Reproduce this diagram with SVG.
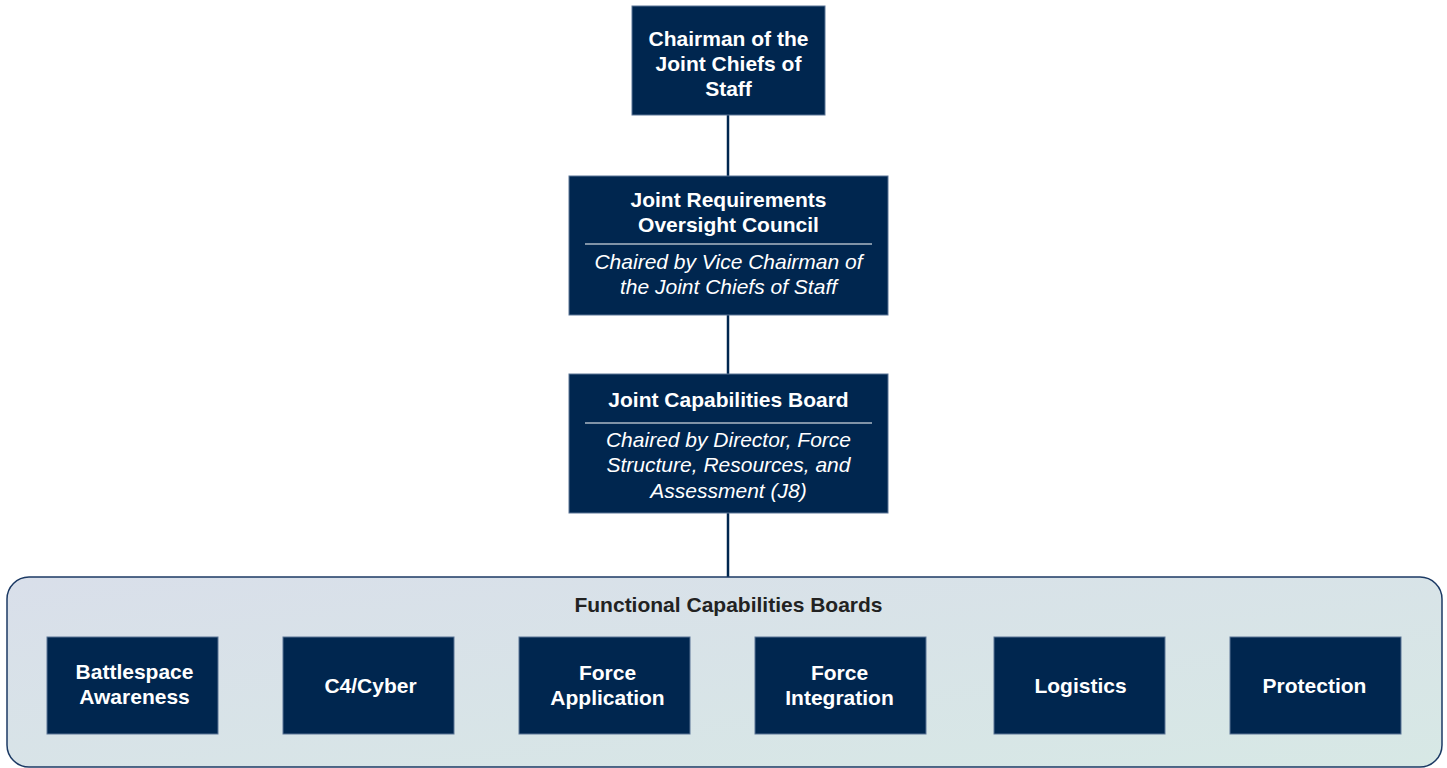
<svg xmlns="http://www.w3.org/2000/svg" width="1447" height="768" viewBox="0 0 1447 768">
<style>
.box{fill:#00264f;stroke:#5a7596;stroke-width:1}
.t{font-family:"Liberation Sans",Arial,sans-serif;font-weight:bold;font-size:21px;fill:#fff;text-anchor:middle}
.i{font-family:"Liberation Sans",Arial,sans-serif;font-style:italic;font-size:21px;fill:#fff;text-anchor:middle}
.div{stroke:#fff;stroke-width:1.2}
.conn{stroke:#00264f;stroke-width:2.5;fill:none}
</style>
<defs>
<linearGradient id="bg" x1="0" y1="0" x2="1" y2="1" gradientUnits="objectBoundingBox">
<stop offset="0" stop-color="#d9dfea"/>
<stop offset="1" stop-color="#d7e8e5"/>
</linearGradient>
</defs>
<rect width="1447" height="768" fill="#fff"/>
<g id="connectors">
<line class="conn" x1="728" y1="115" x2="728" y2="176"/>
<line class="conn" x1="728" y1="315" x2="728" y2="374"/>
<line class="conn" x1="728" y1="513" x2="728" y2="577"/>
</g>
<g id="fcb">
<rect x="7" y="577" width="1435" height="190" rx="22" fill="url(#bg)" stroke="#1c3a64" stroke-width="1.5"/>
<text x="728.5" y="612" font-family="'Liberation Sans',Arial,sans-serif" font-weight="bold" font-size="21" fill="#222" text-anchor="middle">Functional Capabilities Boards</text>
</g>
<g id="cjcs">
<rect class="box" x="632" y="6" width="193" height="109"/>
<text class="t" x="728.5" y="46">Chairman of the</text>
<text class="t" x="728.5" y="71">Joint Chiefs of</text>
<text class="t" x="728.5" y="96">Staff</text>
</g>
<g id="jroc">
<rect class="box" x="569" y="176" width="319" height="139"/>
<text class="t" x="728.5" y="207">Joint Requirements</text>
<text class="t" x="728.5" y="232">Oversight Council</text>
<line class="div" x1="585" y1="244" x2="872" y2="244"/>
<text class="i" x="728.5" y="269">Chaired by Vice Chairman of</text>
<text class="i" x="728.5" y="294">the Joint Chiefs of Staff</text>
</g>
<g id="jcb">
<rect class="box" x="569" y="374" width="319" height="139"/>
<text class="t" x="728.5" y="407">Joint Capabilities Board</text>
<line class="div" x1="585" y1="423" x2="872" y2="423"/>
<text class="i" x="728.5" y="447">Chaired by Director, Force</text>
<text class="i" x="728.5" y="472">Structure, Resources, and</text>
<text class="i" x="728.5" y="498">Assessment (J8)</text>
</g>
<g id="battlespace">
<rect class="box" x="47" y="637" width="171" height="97"/>
<text class="t" x="134.5" y="679">Battlespace</text>
<text class="t" x="134.5" y="704">Awareness</text>
</g>
<g id="c4cyber">
<rect class="box" x="283" y="637" width="171" height="97"/>
<text class="t" x="370.5" y="693">C4/Cyber</text>
</g>
<g id="forceapp">
<rect class="box" x="519" y="637" width="171" height="97"/>
<text class="t" x="607.5" y="680">Force</text>
<text class="t" x="607.5" y="705">Application</text>
</g>
<g id="forceint">
<rect class="box" x="755" y="637" width="171" height="97"/>
<text class="t" x="839.5" y="680">Force</text>
<text class="t" x="839.5" y="705">Integration</text>
</g>
<g id="logistics">
<rect class="box" x="994" y="637" width="171" height="97"/>
<text class="t" x="1080.5" y="693">Logistics</text>
</g>
<g id="protection">
<rect class="box" x="1230" y="637" width="171" height="97"/>
<text class="t" x="1314.5" y="693">Protection</text>
</g>
</svg>
